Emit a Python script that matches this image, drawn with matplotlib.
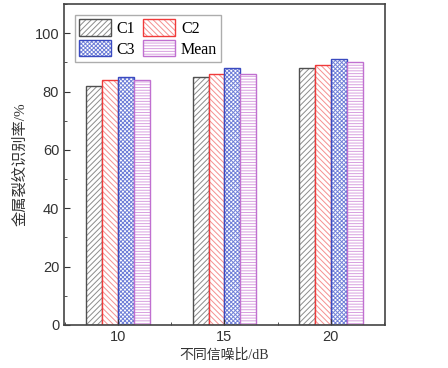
import numpy as np
import matplotlib
matplotlib.use("Agg")
import matplotlib.pyplot as plt
from matplotlib.ticker import MultipleLocator

# --- data ---
snr = [10, 15, 20]
series = ["C1", "C2", "C3", "Mean"]
c1 = [82, 85, 88]
c2 = [84, 86, 89]
c3 = [85, 88, 91]
mean = [84, 86, 90]

edge_colors = ["#505050", "#f03a3a", "#3a4ac0", "#c070d0"]
hatch_colors = ["#8c8c8c", "#f59090", "#7080d8", "#d8a0e0"]
hatches = ["//////", "\\\\\\\\\\\\", "xxxxxxxx", "------"]

plt.rcParams["hatch.linewidth"] = 0.7

fig = plt.figure(figsize=(4.48, 3.68), dpi=100)
ax = fig.add_axes([0.143, 0.117, 0.716, 0.872])

width = 0.75
x = np.array(snr, dtype=float)
handles = []
for i, (name, vals) in enumerate(zip(series, [c1, c2, c3, mean])):
    offs = (i - 1.5) * width
    # light hatch fill, then a solid outline on top
    h = ax.bar(x + offs, vals, width, facecolor="white", edgecolor=hatch_colors[i],
               hatch=hatches[i], linewidth=0)
    o = ax.bar(x + offs, vals, width, fill=False, edgecolor=edge_colors[i], linewidth=1.0)
    handles.append((h, o))

ax.set_xlim(7.45, 22.55)
ax.set_ylim(0, 110)
ax.set_xticks(snr)
ax.xaxis.set_minor_locator(MultipleLocator(2.5))
ax.yaxis.set_major_locator(MultipleLocator(20))
ax.yaxis.set_minor_locator(MultipleLocator(10))
ax.tick_params(which="both", direction="in", colors="#333333", labelcolor="#333333")
ax.tick_params(which="major", length=4, labelsize=10.5)
ax.tick_params(which="minor", length=2.5)
for lab in ax.get_xticklabels() + ax.get_yticklabels():
    lab.set_family("Liberation Sans")
for s in ax.spines.values():
    s.set_linewidth(1.2)
    s.set_color("#444444")

cjk = ["Liberation Serif", "Noto Sans CJK SC"]
ax.set_xlabel("不同信噪比/dB", family=cjk, fontsize=10, color="#333333", labelpad=3)
ax.set_ylabel("金属裂纹识别率/%", family=cjk, fontsize=11, color="#333333", labelpad=5)

# row-wise legend order: C1 C2 / C3 Mean
order = [0, 2, 1, 3]
leg = ax.legend([handles[k] for k in order], [series[k] for k in order],
                loc="upper left", ncol=2, frameon=True, fancybox=False,
                prop={"family": "Liberation Serif", "size": 11.5},
                handlelength=2.0, handleheight=1.2, columnspacing=0.5,
                handletextpad=0.35, borderpad=0.25, labelspacing=0.2,
                bbox_to_anchor=(0.01, 0.99))
leg.get_frame().set_edgecolor("#999999")
leg.get_frame().set_linewidth(1.0)

fig.savefig("out.png", dpi=100)
